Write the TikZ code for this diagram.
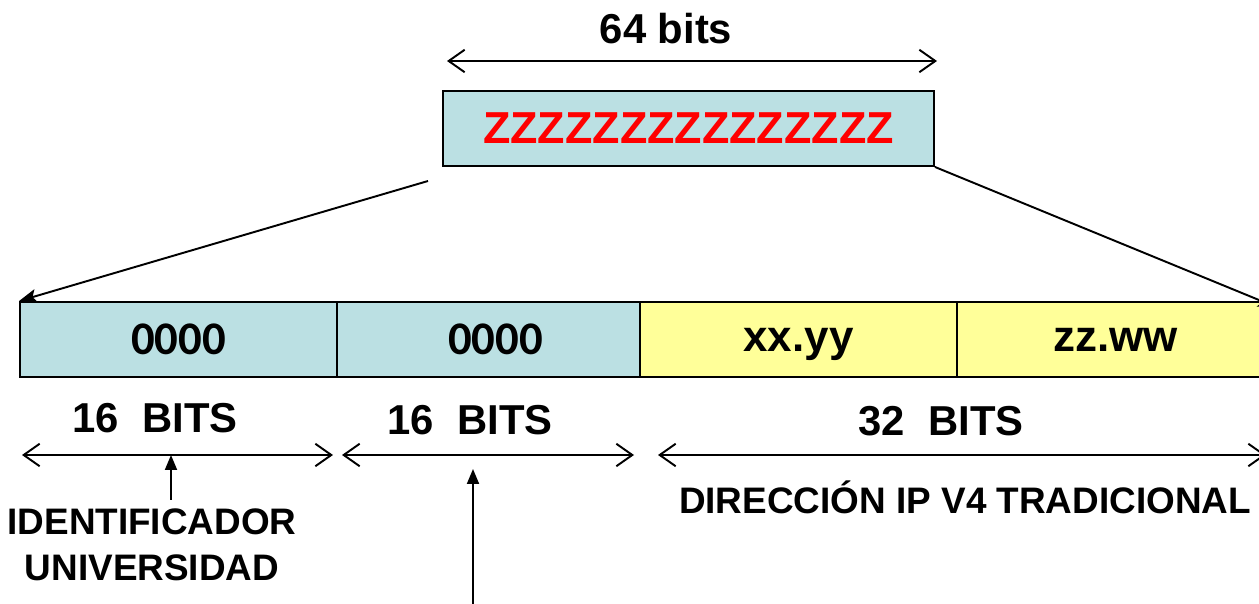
\documentclass[tikz,border=0pt]{standalone}
\usepackage{fontspec}
\setmainfont{Liberation Sans}
\newfontfamily\zerofont{Carlito}
\usetikzlibrary{arrows.meta}
\definecolor{ip_blue}{RGB}{187, 224, 227}
\definecolor{ip_yellow}{RGB}{255, 255, 153}
\definecolor{ip_red}{RGB}{255, 0, 0}
\tikzstyle{seg}=[rectangle,draw=black,line width=1.1pt,inner sep=0pt,
  minimum height=1.5cm,minimum width=6.34cm]
\tikzstyle{bseg}=[seg,fill=ip_blue,font=\zerofont\fontsize{26.6}{30}\selectfont\bfseries]
\tikzstyle{yseg}=[seg,fill=ip_yellow,text height=0.5cm,text depth=0.02cm,
  font=\fontsize{25}{30}\selectfont\bfseries]
\tikzstyle{lbl}=[inner sep=0pt,font=\fontsize{23.8}{28}\selectfont\bfseries]
\tikzstyle{note}=[inner sep=0pt,align=center,font=\fontsize{21}{26}\selectfont\bfseries]
\tikzstyle{dim}=[line width=1.1pt,{Straight Barb[length=0.32cm,width=0.45cm]}-{Straight Barb[length=0.32cm,width=0.45cm]}]
\tikzstyle{ptr}=[line width=1.1pt,-{Triangle[length=0.3cm,width=0.24cm]}]

\begin{document}
\begin{tikzpicture}[x=0.02cm,y=-0.02cm]
    \useasboundingbox (0,0) rectangle (1259,604);
    % top field
    \node [style=lbl] (tb) at (666,29) {64 bits};
    \coordinate (ta) at (447,61);
    \coordinate (tc) at (937,61);
    \node [style=seg,fill=ip_blue,minimum width=9.82cm,text=ip_red,
      font=\fontsize{25.5}{30}\selectfont\bfseries] (z) at (688.5,128.5) {ZZZZZZZZZZZZZZZ};
    \draw [style=dim] (ta) to (tc);
    % expanded field
    \node [style=bseg] (s1) at (178.5,339.5) {0000};
    \node [style=bseg,minimum width=6.06cm] (s2) at (488.5,339.5) {\hspace{0.28cm}0000};
    \node [style=yseg] (s3) at (798.5,339.5) {xx.yy};
    \node [style=yseg] (s4) at (1115.5,339.5) {zz.ww};
    \coordinate (zl) at (428,181);
    \coordinate (zr) at (1276,307);
    \draw [line width=1.1pt,-{Stealth[length=0.36cm,width=0.28cm,inset=0.08cm]}] (zl) to (s1.north west);
    \draw [line width=1.1pt,-{Stealth[length=0.36cm,width=0.28cm,inset=0.08cm]}] (z.south east) to (zr);
    % sizes
    \node [style=lbl] (b1) at (155,418) {16~~BITS};
    \node [style=lbl] (b2) at (470,420) {16~~BITS};
    \node [style=lbl] (b3) at (941,421) {32~~BITS};
    \coordinate (d1a) at (22,455);
    \coordinate (d1b) at (333,455);
    \coordinate (d2a) at (342,455);
    \coordinate (d2b) at (634,455);
    \coordinate (d3a) at (658,455);
    \coordinate (d3b) at (1266,455);
    \draw [style=dim] (d1a) to (d1b);
    \draw [style=dim] (d2a) to (d2b);
    \draw [style=dim] (d3a) to (d3b);
    % notes
    \node [style=note] (uni) at (152,545) {IDENTIFICADOR\\UNIVERSIDAD};
    \node [style=note] (ipv4) at (965,497) {DIRECCIÓN IP V4 TRADICIONAL};
    \coordinate (p1a) at (171,500);
    \coordinate (p1b) at (171,455);
    \coordinate (p2a) at (473,606);
    \coordinate (p2b) at (473,469);
    \draw [style=ptr] (p1a) to (p1b);
    \draw [style=ptr] (p2a) to (p2b);
\end{tikzpicture}
\end{document}
